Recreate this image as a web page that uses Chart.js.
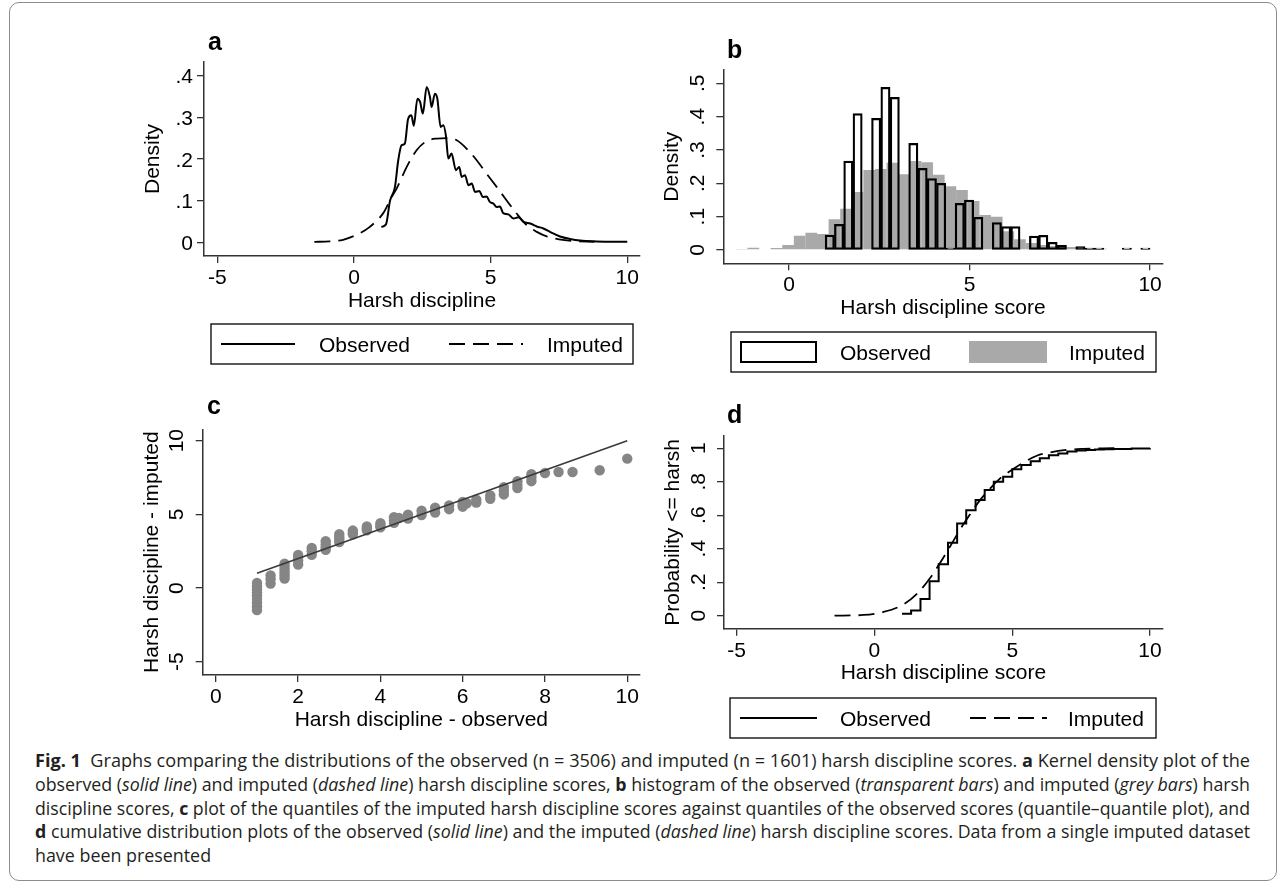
<!DOCTYPE html>
<html>
<head>
<meta charset="utf-8">
<script src="https://cdn.jsdelivr.net/npm/chart.js@4.4.1/dist/chart.umd.min.js"></script>
<style>
  html, body { margin: 0; padding: 0; background: #fff; }
  #page { position: relative; width: 1285px; height: 883px; overflow: hidden; }
  #frame { position: absolute; left: 9px; top: 2px; width: 1268px; height: 879px;
           border: 1px solid #8c8c8c; border-radius: 10px; box-sizing: border-box; }
  canvas { position: absolute; }
  .cap { position: absolute; left: 35px; white-space: nowrap; font-family: "Open Sans", sans-serif;
         font-size: 17.5px; line-height: 24px; color: #231f20; transform-origin: 0 50%; }
</style>
</head>
<body>
<div id="page">
  <div id="frame"></div>
  <canvas id="pa"></canvas>
  <canvas id="pb"></canvas>
  <canvas id="pc"></canvas>
  <canvas id="pd"></canvas>
  <div class="cap" style="top:748px"><b>Fig. 1</b>&nbsp; Graphs comparing the distributions of the observed (n = 3506) and imputed (n = 1601) harsh discipline scores. <b>a</b> Kernel density plot of the</div>
  <div class="cap" style="top:772px">observed (<i>solid line</i>) and imputed (<i>dashed line</i>) harsh discipline scores, <b>b</b> histogram of the observed (<i>transparent bars</i>) and imputed (<i>grey bars</i>) harsh</div>
  <div class="cap" style="top:796px">discipline scores, <b>c</b> plot of the quantiles of the imputed harsh discipline scores against quantiles of the observed scores (quantile–quantile plot), and</div>
  <div class="cap" style="top:819px"><b>d</b> cumulative distribution plots of the observed (<i>solid line</i>) and the imputed (<i>dashed line</i>) harsh discipline scores. Data from a single imputed dataset</div>
  <div class="cap" style="top:843px">have been presented</div>
</div>
<script>
// a: kernel densities
const densObsX = [1.0, 1.17, 1.32, 1.5, 1.62, 1.74, 1.86, 1.98, 2.1, 2.19, 2.32, 2.42, 2.52, 2.66, 2.78, 2.84, 2.96, 3.05, 3.17, 3.27, 3.37, 3.45, 3.57, 3.73, 3.85, 3.94, 4.06, 4.19, 4.31, 4.43, 4.59, 4.71, 4.85, 4.97, 5.1, 5.22, 5.34, 5.46, 5.65, 5.83, 6.02, 6.2, 6.45, 6.69, 6.93, 7.17, 7.54, 7.9, 8.27, 8.88, 10];
const densObsY = [0.037, 0.043, 0.10, 0.133, 0.197, 0.233, 0.237, 0.296, 0.305, 0.28, 0.345, 0.337, 0.309, 0.373, 0.349, 0.325, 0.357, 0.345, 0.277, 0.281, 0.253, 0.201, 0.213, 0.173, 0.181, 0.157, 0.161, 0.137, 0.141, 0.121, 0.123, 0.109, 0.110, 0.097, 0.093, 0.085, 0.086, 0.070, 0.067, 0.057, 0.060, 0.049, 0.045, 0.038, 0.033, 0.025, 0.014, 0.008, 0.004, 0.002, 0.001];
const densImpX = [-1.45, -0.9, -0.4, 0.1, 0.58, 1.07, 1.38, 1.56, 1.93, 2.29, 2.66, 3.02, 3.39, 3.76, 4.12, 4.49, 4.85, 5.22, 5.58, 5.95, 6.32, 6.69, 7.05, 7.5, 8.0, 8.8];
const densImpY = [0.001, 0.002, 0.006, 0.018, 0.037, 0.07, 0.109, 0.129, 0.181, 0.221, 0.243, 0.249, 0.25, 0.245, 0.225, 0.197, 0.165, 0.133, 0.101, 0.069, 0.041, 0.025, 0.014, 0.007, 0.003, 0.001];

// b: histograms (bin mid points and densities, null = empty bin)
const histObsMid = [1.129, 1.386, 1.643, 1.9, 2.157, 2.414, 2.671, 2.929, 3.186, 3.443, 3.7, 3.957, 4.214, 4.471, 4.729, 4.986, 5.243, 5.5, 5.757, 6.014, 6.271, 6.529, 6.786, 7.043, 7.3, 7.557, 7.814, 8.071, 8.329, 8.586, 8.843, 9.1, 9.357, 9.614, 9.871];
const histObsH = [0.045, 0.077, 0.267, 0.409, null, 0.395, 0.488, 0.458, null, 0.32, 0.245, 0.214, 0.2, 0.002, 0.14, 0.15, 0.098, null, 0.082, 0.07, 0.07, null, 0.042, 0.044, 0.023, 0.014, null, 0.01, 0.002, 0.005, null, null, 0.002, null, 0.002];
const histImpMid = [-1.31, -0.988, -0.667, -0.346, -0.025, 0.296, 0.617, 0.938, 1.259, 1.58, 1.901, 2.222, 2.543, 2.864, 3.185, 3.506, 3.827, 4.148, 4.469, 4.79, 5.111, 5.432, 5.753, 6.074, 6.395, 6.716, 7.037, 7.358, 7.679, 8.0, 8.321, 8.642];
const histImpH = [0.003, 0.007, null, 0.006, 0.015, 0.043, 0.052, 0.048, 0.092, 0.124, 0.174, 0.24, 0.243, 0.262, 0.227, 0.267, 0.263, 0.226, 0.191, 0.18, 0.147, 0.105, 0.1, 0.056, 0.032, 0.021, 0.015, 0.012, 0.009, 0.009, 0.005, 0.004];

// c: quantile-quantile
const qqObs = [1, 1, 1, 1, 1, 1, 1, 1, 1, 1.33, 1.33, 1.33, 1.67, 1.67, 1.67, 1.67, 1.67, 1.67, 2, 2, 2, 2, 2.33, 2.33, 2.33, 2.67, 2.67, 2.67, 2.67, 3, 3, 3, 3, 3.33, 3.33, 3.33, 3.67, 3.67, 3.67, 4, 4, 4, 4.33, 4.33, 4.33, 4.45, 4.67, 4.67, 5, 5, 5.33, 5.33, 5.67, 5.67, 6, 6, 6, 6.1, 6.33, 6.33, 6.67, 6.67, 7, 7, 7, 7.33, 7.33, 7.33, 7.67, 7.67, 7.67, 8, 8.33, 8.67, 9.33, 10];
const qqImp = [0.34, 0.12, -0.1, -0.3, -0.5, -0.75, -1.0, -1.25, -1.5, 0.85, 0.6, 0.3, 1.65, 1.45, 1.25, 1.05, 0.85, 0.65, 2.25, 2.05, 1.85, 1.6, 2.72, 2.5, 2.25, 3.18, 2.95, 2.75, 2.6, 3.65, 3.45, 3.3, 3.12, 3.9, 3.75, 3.65, 4.18, 4.05, 3.92, 4.4, 4.25, 4.12, 4.8, 4.6, 4.42, 4.75, 4.98, 4.72, 5.25, 4.95, 5.45, 5.12, 5.6, 5.35, 5.84, 5.65, 5.52, 5.75, 6.0, 5.8, 6.28, 6.06, 6.85, 6.6, 6.35, 7.25, 7.0, 6.78, 7.72, 7.5, 7.25, 7.8, 7.87, 7.87, 7.99, 8.78];
const qqLineX = [1, 10];
const qqLineY = [1, 10];

// d: cumulative distributions
const cdfObsX = [1, 1.33, 1.67, 2, 2.33, 2.67, 3, 3.33, 3.67, 4, 4.33, 4.67, 5, 5.33, 5.67, 6, 6.33, 6.67, 7, 7.33, 7.67, 8, 8.33, 8.67, 9.33, 10];
const cdfObsY = [0.012, 0.031, 0.10, 0.205, 0.307, 0.435, 0.55, 0.63, 0.69, 0.75, 0.80, 0.83, 0.874, 0.90, 0.922, 0.94, 0.958, 0.969, 0.98, 0.986, 0.99, 0.993, 0.994, 0.996, 0.998, 1.0];
const cdfImpX = [-1.45, -0.4, 0.33, 1.0, 1.54, 2.02, 2.38, 2.75, 3.11, 3.47, 3.83, 4.2, 4.56, 4.98, 5.41, 5.89, 6.37, 6.98, 7.58, 8.3, 8.8];
const cdfImpY = [0, 0.004, 0.022, 0.062, 0.13, 0.225, 0.315, 0.415, 0.515, 0.605, 0.69, 0.76, 0.82, 0.87, 0.915, 0.955, 0.975, 0.99, 0.996, 0.999, 1.0];

// tick values and labels
const aXTicks = [-5, 0, 5, 10], aXLabels = ['-5', '0', '5', '10'];
const aYTicks = [0, 0.1, 0.2, 0.3, 0.4], aYLabels = ['0', '.1', '.2', '.3', '.4'];
const bXTicks = [0, 5, 10], bXLabels = ['0', '5', '10'];
const bYTicks = [0, 0.1, 0.2, 0.3, 0.4, 0.5], bYLabels = ['0', '.1', '.2', '.3', '.4', '.5'];
const cXTicks = [0, 2, 4, 6, 8, 10], cXLabels = ['0', '2', '4', '6', '8', '10'];
const cYTicks = [-5, 0, 5, 10], cYLabels = ['-5', '0', '5', '10'];
const dXTicks = [-5, 0, 5, 10], dXLabels = ['-5', '0', '5', '10'];
const dYTicks = [0, 0.2, 0.4, 0.6, 0.8, 1], dYLabels = ['0', '.2', '.4', '.6', '.8', '1'];

const FONT = '"Liberation Sans", Arial, Helvetica, sans-serif';
const pts = (xs, ys) => xs.map((x, i) => ({ x: x, y: ys[i] }));

function axis(min, max, ticks, pos) {
  return {
    type: 'linear', position: pos, min: min, max: max, offset: false,
    afterBuildTicks: s => { s.ticks = ticks.map(v => ({ value: v })); },
    afterFit: s => { if (pos === 'left') s.width = 0; else s.height = 0; },
    ticks: { display: false },
    grid: { offset: false, drawOnChartArea: false, drawTicks: true, tickLength: 7, color: '#333', lineWidth: 1.3 },
    border: { display: true, color: '#333', width: 1.5 }
  };
}

// draws tick labels, titles, panel letter and the boxed legend
function deco(d) {
  return {
    id: 'stata',
    afterDraw(chart) {
      const ctx = chart.ctx, ca = chart.chartArea;
      const sx = chart.scales.x, sy = chart.scales.y;
      const ox = d.box.x, oy = d.box.y;
      ctx.save();
      ctx.fillStyle = '#000';
      ctx.font = '21px ' + FONT;
      ctx.textBaseline = 'alphabetic';
      ctx.textAlign = 'center';
      d.xTicks.forEach((v, i) => ctx.fillText(d.xLabels[i], sx.getPixelForValue(v), ca.bottom + 28));
      d.yTicks.forEach((v, i) => {
        const py = sy.getPixelForValue(v);
        if (d.rotY) {
          ctx.save();
          ctx.translate(ca.left - 19.5, py);
          ctx.rotate(-Math.PI / 2);
          ctx.textAlign = 'center';
          ctx.fillText(d.yLabels[i], 0, 0);
          ctx.restore();
        } else {
          ctx.textAlign = 'right';
          ctx.fillText(d.yLabels[i], ca.left - 11, py + 7.5);
        }
      });
      ctx.textAlign = 'center';
      ctx.fillText(d.xTitle, (ca.left + ca.right) / 2, ca.bottom + 50.5);
      ctx.save();
      ctx.translate(ca.left - 45, (ca.top + ca.bottom) / 2);
      ctx.rotate(-Math.PI / 2);
      ctx.fillText(d.yTitle, 0, 0);
      ctx.restore();

      ctx.font = 'bold 25px ' + FONT;
      ctx.textAlign = 'left';
      ctx.fillText(d.letter, d.letterAt[0] - ox, d.letterAt[1] - oy);

      const lg = d.legend;
      if (lg) {
        const l = lg.box[0] - ox, t = lg.box[1] - oy, r = lg.box[2] - ox, b = lg.box[3] - oy;
        const cy = (t + b) / 2;
        ctx.lineWidth = 1.3;
        ctx.strokeStyle = '#000';
        ctx.strokeRect(l, t, r - l, b - t);
        ctx.font = '21px ' + FONT;
        lg.items.forEach(it => {
          const ds = chart.data.datasets[it.ds];
          if (it.kind === 'line') {
            ctx.save();
            ctx.setLineDash(ds.borderDash || []);
            ctx.lineWidth = ds.borderWidth;
            ctx.strokeStyle = ds.borderColor;
            ctx.beginPath();
            ctx.moveTo(it.x1 - ox, cy);
            ctx.lineTo(it.x2 - ox, cy);
            ctx.stroke();
            ctx.restore();
          } else {
            const x = it.x1 - ox, w = it.x2 - it.x1, h = it.h;
            ctx.fillStyle = ds.backgroundColor;
            ctx.fillRect(x, cy - h / 2, w, h);
            if (ds.borderWidth) {
              ctx.lineWidth = 2;
              ctx.strokeStyle = ds.borderColor;
              ctx.strokeRect(x + 1, cy - h / 2 + 1, w - 2, h - 2);
            }
          }
          ctx.fillStyle = '#000';
          ctx.textAlign = 'left';
          ctx.fillText(ds.label, it.tx - ox, cy + 8);
        });
      }
      ctx.restore();
    }
  };
}

function panel(id, box, area, scales, datasets, d) {
  const cv = document.getElementById(id);
  cv.width = box.w; cv.height = box.h;
  cv.style.left = box.x + 'px'; cv.style.top = box.y + 'px';
  cv.style.width = box.w + 'px'; cv.style.height = box.h + 'px';
  d.box = box;
  return new Chart(cv, {
    type: 'scatter',
    data: { datasets: datasets },
    options: {
      responsive: false, animation: false, devicePixelRatio: 1,
      layout: { padding: { left: area.l - box.x, top: area.t - box.y, right: box.x + box.w - area.r, bottom: box.y + box.h - area.b } },
      scales: scales,
      plugins: { legend: { display: false }, tooltip: { enabled: false } }
    },
    plugins: [deco(d)]
  });
}

// panel a
panel('pa', { x: 100, y: 15, w: 560, h: 360 }, { l: 204, t: 62, r: 640, b: 256 },
  { x: axis(-5.487, 10.465, aXTicks, 'bottom'), y: axis(-0.033, 0.433, aYTicks, 'left') },
  [
    { label: 'Observed', data: pts(densObsX, densObsY), showLine: true, pointRadius: 0, borderColor: '#000', borderWidth: 2, cubicInterpolationMode: 'monotone' },
    { label: 'Imputed', data: pts(densImpX, densImpY), showLine: true, pointRadius: 0, borderColor: '#000', borderWidth: 1.8, borderDash: [16, 8], cubicInterpolationMode: 'monotone' }
  ],
  { xTicks: aXTicks, xLabels: aXLabels, yTicks: aYTicks, yLabels: aYLabels, rotY: false,
    xTitle: 'Harsh discipline', yTitle: 'Density', letter: 'a', letterAt: [208, 50],
    legend: { box: [211, 324, 633, 364], items: [
      { ds: 0, kind: 'line', x1: 221, x2: 295, tx: 319 },
      { ds: 1, kind: 'line', x1: 449, x2: 523, tx: 547 }] } });

// panel b
panel('pb', { x: 660, y: 15, w: 520, h: 365 }, { l: 723.3, t: 70, r: 1162.7, b: 263.3 },
  { x: axis(-1.82, 10.35, bXTicks, 'bottom'),
    x2: { type: 'linear', display: false, offset: false, min: -1.82, max: 10.35 },
    y: axis(-0.04, 0.54, bYTicks, 'left') },
  [
    { type: 'bar', label: 'Observed', xAxisID: 'x', data: pts(histObsMid, histObsH), backgroundColor: 'rgba(255,255,255,0)', borderColor: '#000', borderWidth: 1.6, borderSkipped: false, grouped: false, barPercentage: 1, categoryPercentage: 1, minBarLength: 2, order: 0 },
    { type: 'bar', label: 'Imputed', xAxisID: 'x2', data: pts(histImpMid, histImpH), backgroundColor: '#a9a9a9', borderWidth: 0, grouped: false, barPercentage: 1.01, categoryPercentage: 1, order: 1 }
  ],
  { xTicks: bXTicks, xLabels: bXLabels, yTicks: bYTicks, yLabels: bYLabels, rotY: true,
    xTitle: 'Harsh discipline score', yTitle: 'Density', letter: 'b', letterAt: [727, 58],
    legend: { box: [731, 332, 1156, 372], items: [
      { ds: 0, kind: 'rect', x1: 740, x2: 817, h: 22, tx: 840 },
      { ds: 1, kind: 'rect', x1: 969, x2: 1047, h: 22, tx: 1069 }] } });

// panel c
panel('pc', { x: 100, y: 390, w: 560, h: 345 }, { l: 202.7, t: 429.3, r: 640, b: 675 },
  { x: axis(-0.32, 10.31, cXTicks, 'bottom'), y: axis(-5.9, 10.77, cYTicks, 'left') },
  [
    { label: 'Reference', data: pts(qqLineX, qqLineY), showLine: true, pointRadius: 0, borderColor: '#3a3a3a', borderWidth: 1.6, order: 0 },
    { label: 'Quantiles', data: pts(qqObs, qqImp), pointRadius: 5.2, pointBackgroundColor: '#858585', pointBorderWidth: 0, order: 1 }
  ],
  { xTicks: cXTicks, xLabels: cXLabels, yTicks: cYTicks, yLabels: cYLabels, rotY: true,
    xTitle: 'Harsh discipline - observed', yTitle: 'Harsh discipline - imputed', letter: 'c', letterAt: [207, 414] });

// panel d
panel('pd', { x: 660, y: 390, w: 520, h: 355 }, { l: 724, t: 436, r: 1162.7, b: 628.7 },
  { x: axis(-5.46, 10.46, dXTicks, 'bottom'), y: axis(-0.078, 1.073, dYTicks, 'left') },
  [
    { label: 'Observed', data: pts(cdfObsX, cdfObsY), showLine: true, pointRadius: 0, borderColor: '#000', borderWidth: 2, stepped: 'before' },
    { label: 'Imputed', data: pts(cdfImpX, cdfImpY), showLine: true, pointRadius: 0, borderColor: '#000', borderWidth: 1.8, borderDash: [16, 8], cubicInterpolationMode: 'monotone' }
  ],
  { xTicks: dXTicks, xLabels: dXLabels, yTicks: dYTicks, yLabels: dYLabels, rotY: true,
    xTitle: 'Harsh discipline score', yTitle: 'Probability <= harsh', letter: 'd', letterAt: [727, 423],
    legend: { box: [730, 698, 1156, 738], items: [
      { ds: 0, kind: 'line', x1: 740, x2: 817, tx: 840 },
      { ds: 1, kind: 'line', x1: 970, x2: 1047, tx: 1068 }] } });

// fit caption lines to the justified column width
function fitCaption() {
  const lines = Array.from(document.querySelectorAll('.cap'));
  const target = 1250 - 35;
  let sum = 0;
  lines.forEach(el => { el.style.transform = 'none'; });
  lines.slice(0, 4).forEach(el => {
    const s = target / el.getBoundingClientRect().width;
    sum += s;
    el.style.transform = 'scaleX(' + s + ')';
  });
  lines[4].style.transform = 'scaleX(' + (sum / 4) + ')';
}
fitCaption();
if (document.fonts) document.fonts.ready.then(fitCaption);
</script>
</body>
</html>
